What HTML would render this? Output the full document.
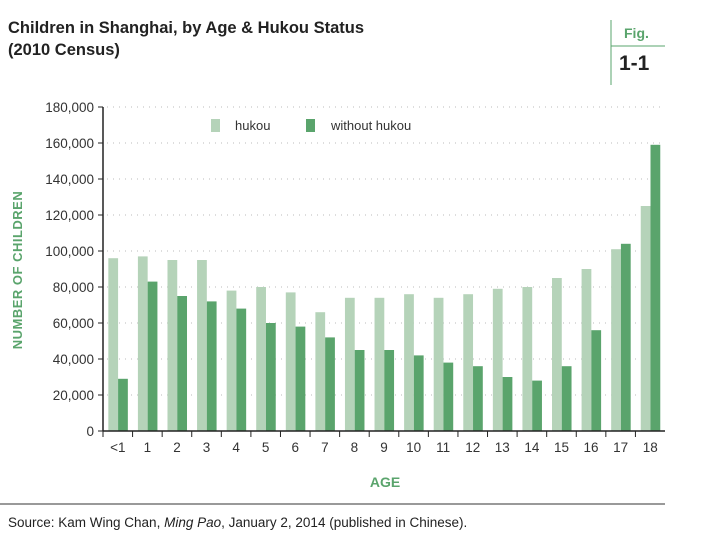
<!DOCTYPE html>
<html><head><meta charset="utf-8"><style>
body{margin:0;background:#fff;width:701px;height:540px;overflow:hidden;font-family:"Liberation Sans",sans-serif}
svg{display:block}
</style></head><body>
<svg id="c" width="701" height="540">
<text x="8" y="33" font-size="16.5" font-weight="bold" fill="#222">Children in Shanghai, by Age &amp; Hukou Status</text>
<text x="8" y="55" font-size="16.5" font-weight="bold" fill="#222">(2010 Census)</text>
<line x1="611" y1="20" x2="611" y2="85" stroke="#5aa46c"/>
<line x1="611" y1="46" x2="665" y2="46" stroke="#5aa46c"/>
<text x="624" y="38" font-size="14" font-weight="bold" fill="#5aa46c">Fig.</text>
<text x="619" y="70" font-size="21" font-weight="bold" fill="#222">1-1</text>
<text transform="translate(22,270) rotate(-90)" text-anchor="middle" font-size="13" font-weight="bold" fill="#5aa46c" letter-spacing="0.5">NUMBER OF CHILDREN</text>
<text x="385" y="487" text-anchor="middle" font-size="14" font-weight="bold" fill="#5aa46c">AGE</text>
<line x1="0" y1="504" x2="665" y2="504" stroke="#333"/>
<text x="8" y="527" font-size="13.5" fill="#222">Source: Kam Wing Chan, <tspan font-style="italic">Ming Pao</tspan>, January 2, 2014 (published in Chinese).</text>
<rect x="211" y="119" width="9" height="13" fill="#b5d3b9"/>
<text x="235" y="130" font-size="13" fill="#333">hukou</text>
<rect x="306" y="119" width="9" height="13" fill="#5aa46c"/>
<text x="331" y="130" font-size="13" fill="#333">without hukou</text>
<g id="plot"></g>
</svg>
<script>
const categories=["<1","1","2","3","4","5","6","7","8","9","10","11","12","13","14","15","16","17","18"];
const hukou=[96000,97000,95000,95000,78000,80000,77000,66000,74000,74000,76000,74000,76000,79000,80000,85000,90000,101000,125000];
const withoutHukou=[29000,83000,75000,72000,68000,60000,58000,52000,45000,45000,42000,38000,36000,30000,28000,36000,56000,104000,159000];
const yTicks=[0,20000,40000,60000,80000,100000,120000,140000,160000,180000];
const NS="http://www.w3.org/2000/svg";
const g=document.getElementById('plot');
const x0=103,x1=665,y0=431,y1=107,yMax=180000;
const band=(x1-x0)/categories.length;
const y=v=>y0-(v/yMax)*(y0-y1);
const xb=i=>x0+i*band;
function mk(t,a){const e=document.createElementNS(NS,t);for(const k in a)e.setAttribute(k,a[k]);g.appendChild(e);return e;}
yTicks.forEach((t,i)=>{
  if(t>0){const l=mk('line',{x1:x0+4,x2:x1,y1:y(t),y2:y(t),stroke:'#bbb','stroke-dasharray':'1 5'});
  
  }
  const tk=mk('line',{x1:x0-5,x2:x0,y1:y(t),y2:y(t),stroke:'#222'});
  
  
  const tx=mk('text',{x:x0-9,y:y(t)+5,'text-anchor':'end','font-size':'13.5',fill:'#333'});
  tx.textContent=t.toLocaleString('en-US');
  
  
});
categories.forEach((c,i)=>{
  const bw=band*0.33;
  const a=mk('rect',{x:xb(i)+band*0.18,y:y(hukou[i]),width:bw,height:y0-y(hukou[i]),fill:'#b5d3b9'});
  
  
  const b=mk('rect',{x:xb(i)+band*0.18+bw,y:y(withoutHukou[i]),width:bw,height:y0-y(withoutHukou[i]),fill:'#5aa46c'});
  
  
  const tk=mk('line',{x1:xb(i),x2:xb(i),y1:y0,y2:y0+6,stroke:'#222'});
  
  
  const tx=mk('text',{x:xb(i)+band/2,y:y0+21,'text-anchor':'middle','font-size':'13.5',fill:'#333'});
  tx.textContent=c;
  
  
});
const ax=mk('line',{x1:x0,x2:x0,y1:y1,y2:y0,stroke:'#222','stroke-width':1.5});


const bx=mk('line',{x1:x0,x2:x1,y1:y0,y2:y0,stroke:'#222','stroke-width':1.5});


</script>
</body></html>
